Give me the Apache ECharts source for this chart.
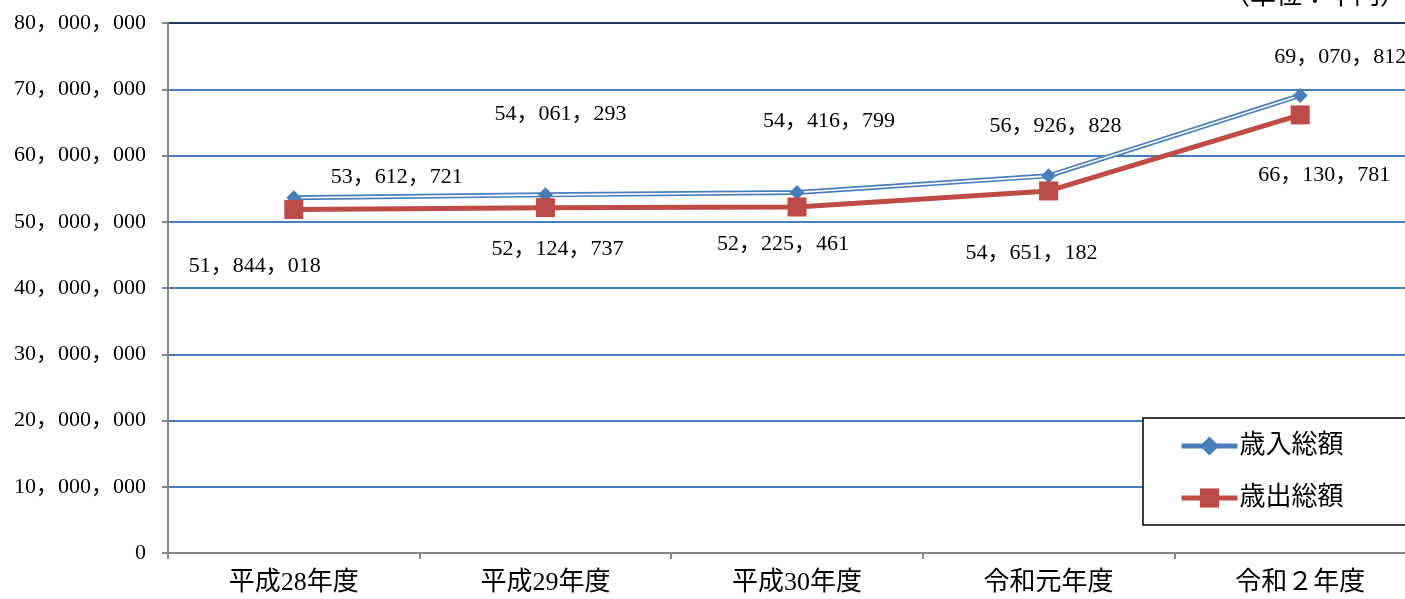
<!DOCTYPE html>
<html>
<head>
<meta charset="utf-8">
<script src="https://cdn.jsdelivr.net/npm/echarts@6/dist/echarts.min.js"></script>
<style>
html,body{margin:0;padding:0;background:#fff;overflow:hidden;width:1405px;height:599px;}
#c{width:1426px;height:599px;}
</style>
</head>
<body>
<div id="c"></div>
<script>
// ---- data ----
var categories = ['平成28年度', '平成29年度', '平成30年度', '令和元年度', '令和２年度'];
var revenue = [53612721, 54061293, 54416799, 56926828, 69070812];   // 歳入総額
var expenditure = [51844018, 52124737, 52225461, 54651182, 66130781]; // 歳出総額
var seriesNames = ['歳入総額', '歳出総額'];
var unitLabel = '（単位：千円）';
var yMin = 0, yMax = 80000000, yStep = 10000000;

// ---- layout (label offsets relative to the point) ----
var revOffsets = [[103, -21], [15, -81], [32, -71], [7, -50], [40, -38]];
var expOffsets = [[-39, 57], [12, 42], [-14, 37], [-17, 62], [24, 60]];

var NUM_FONT = "'Liberation Serif', 'Noto Sans CJK JP', serif";
function fmt(v) {
  return String(v).replace(/\B(?=(\d{3})+(?!\d))/g, '，');
}
function withLabels(values, offsets) {
  return values.map(function (v, i) {
    return {
      value: v,
      label: { show: true, position: 'inside', offset: offsets[i] }
    };
  });
}

var chart = echarts.init(document.getElementById('c'), null, { renderer: 'canvas' });
var blue = '#4A7EBB', red = '#BE4B48';
var labelStyle = {
  color: '#000', fontSize: 22, fontFamily: NUM_FONT,
  formatter: function (p) { return fmt(p.value); }
};

chart.setOption({
  animation: false,
  backgroundColor: '#fff',
  grid: { left: 168, top: 23, right: 0, height: 530, containLabel: false },
  legend: {
    data: [
      { name: seriesNames[0], lineStyle: { width: 5, color: blue } },
      { name: seriesNames[1], lineStyle: { width: 5, color: red } }
    ],
    left: 1143, top: 418,
    orient: 'vertical',
    padding: [15, 120, 14, 36],
    itemGap: 26,
    itemWidth: 56,
    itemHeight: 24,
    borderColor: '#000',
    borderWidth: 1.5,
    backgroundColor: '#fff',
    textStyle: { fontSize: 26, color: '#000', fontFamily: NUM_FONT, padding: [0, 0, 0, -3] }
  },
  graphic: [{
    type: 'text',
    right: 20, top: -16,
    style: { text: unitLabel, fontSize: 26, fill: '#000', fontFamily: NUM_FONT }
  }],
  xAxis: {
    type: 'category',
    data: categories,
    boundaryGap: true,
    axisLine: { lineStyle: { color: '#868686', width: 2 } },
    axisTick: { show: true, length: 6, lineStyle: { color: '#868686', width: 2 } },
    axisLabel: { fontSize: 26, color: '#000', fontFamily: NUM_FONT, margin: 17 },
    splitLine: { show: false }
  },
  yAxis: {
    type: 'value',
    min: yMin, max: yMax, interval: yStep,
    axisLine: { show: true, lineStyle: { color: '#868686', width: 2 } },
    axisTick: { show: true, length: 6, lineStyle: { color: '#868686', width: 2 } },
    axisLabel: {
      fontSize: 22, color: '#000', fontFamily: NUM_FONT, margin: 22,
      formatter: function (v) { return fmt(v); }
    },
    splitLine: {
      show: true,
      lineStyle: {
        color: [blue, blue, blue, blue, blue, blue, blue, blue, '#1F3864'],
        width: 2
      }
    }
  },
  series: [
    {
      name: seriesNames[0],
      type: 'line',
      data: revenue,
      symbol: 'diamond',
      symbolSize: 14,
      showSymbol: false,
      color: blue,
      lineStyle: { color: blue, width: 5 },
      itemStyle: { color: blue },
      z: 2
    },
    {
      name: 'rev-inner',
      type: 'line',
      data: revenue,
      showSymbol: false,
      silent: true,
      lineStyle: { color: '#fff', width: 1.6 },
      z: 3
    },
    {
      name: 'rev-marks',
      type: 'line',
      data: withLabels(revenue, revOffsets),
      symbol: 'diamond',
      symbolSize: 15,
      showSymbol: true,
      lineStyle: { opacity: 0, width: 0 },
      itemStyle: { color: blue },
      label: labelStyle,
      z: 4
    },
    {
      name: seriesNames[1],
      type: 'line',
      data: withLabels(expenditure, expOffsets),
      symbol: 'rect',
      symbolSize: 19,
      showSymbol: true,
      color: red,
      lineStyle: { color: red, width: 5 },
      itemStyle: { color: red },
      label: labelStyle,
      z: 5
    }
  ]
});
</script>
</body>
</html>
